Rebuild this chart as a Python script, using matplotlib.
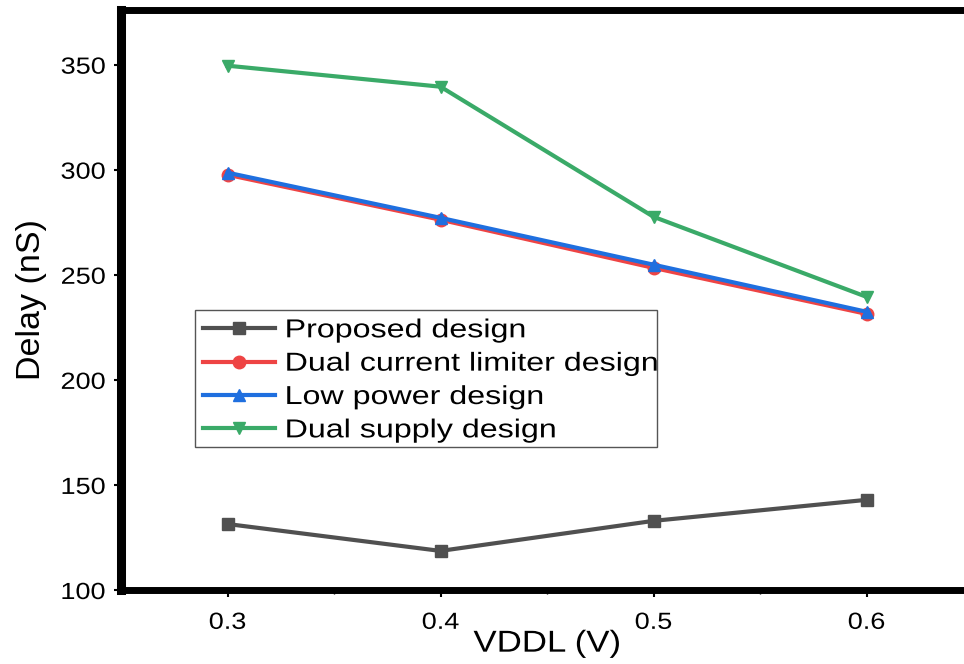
import matplotlib
matplotlib.use("Agg")
import matplotlib.pyplot as plt
from matplotlib.ticker import MultipleLocator
from matplotlib.patheffects import AbstractPathEffect
from matplotlib.transforms import Affine2D
from matplotlib.patches import Rectangle

plt.rcParams['font.family'] = ['Liberation Sans', 'DejaVu Sans']

vddl = [0.3, 0.4, 0.5, 0.6]
proposed = [131.4, 118.6, 132.9, 142.9]
dual_limiter = [297.6, 276.2, 253.3, 231.4]
low_power = [298.6, 277.1, 254.8, 232.4]
dual_supply = [349.5, 339.5, 277.6, 239.5]

labels = ["Proposed design", "Dual current limiter design", "Low power design", "Dual supply design"]
colors = ["#505050", "#ee4444", "#1f6fdf", "#3aaa68"]
markers = ["s", "o", "^", "v"]


class StretchX(AbstractPathEffect):
    """Widen glyphs along the text direction (the reference image is horizontally stretched)."""
    def __init__(self, sx, anchor="center"):
        super().__init__()
        self.sx = sx
        self.anchor = anchor

    def draw_path(self, renderer, gc, tpath, affine, rgbFace=None):
        ext = tpath.get_extents()
        if self.anchor == "left":
            cx = ext.x0
        elif self.anchor == "right":
            cx = ext.x1
        else:
            cx = 0.5 * (ext.x0 + ext.x1)
        st = Affine2D().translate(-cx, 0).scale(self.sx, 1).translate(cx, 0)
        renderer.draw_path(gc, tpath, st + affine, rgbFace)


fig = plt.figure(figsize=(9.64, 6.64), dpi=100)
ax = fig.add_axes([121/964, 74/664, 852/964, 580/664])

for y, lab, c, m in zip([proposed, dual_limiter, low_power, dual_supply], labels, colors, markers):
    ax.plot(vddl, y, color=c, marker=m, markersize=9, linewidth=3, label=lab)

ax.set_xlim(0.25, 0.65)
ax.set_ylim(100, 376)
ax.set_xticks(vddl)
ax.set_xticklabels(["0.3", "0.4", "0.5", "0.6"])
ax.xaxis.set_minor_locator(MultipleLocator(0.05))
ax.set_yticks([100, 150, 200, 250, 300, 350])

ax.spines['left'].set_linewidth(6.5)
for s in ['bottom', 'top', 'right']:
    ax.spines[s].set_linewidth(5)

ax.tick_params(axis='both', which='major', direction='out', length=5, width=1.5, labelsize=16.8)
ax.tick_params(axis='x', which='major', pad=10)
ax.tick_params(axis='y', which='major', pad=6)
ax.tick_params(axis='x', which='minor', direction='out', length=3, width=1)

for t in ax.get_xticklabels():
    t.set_path_effects([StretchX(1.16, "center")])
for t in ax.get_yticklabels():
    t.set_path_effects([StretchX(1.16, "right")])

xl = ax.set_xlabel("VDDL (V)", fontsize=21.8, labelpad=-3)
yl = ax.set_ylabel("Delay (nS)", fontsize=24.5, labelpad=14)
xl.set_path_effects([StretchX(1.15, "center")])

# legend frame (drawn separately because glyphs are widened after layout)
fx0, fx1, fy0, fy1 = 195, 657, 310, 447
ax.add_patch(Rectangle(((fx0 - 121) / 852, (590 - fy1) / 580), (fx1 - fx0) / 852, (fy1 - fy0) / 580,
                       transform=ax.transAxes, facecolor='white', edgecolor='#555555',
                       linewidth=1, zorder=4.9, clip_on=False))

leg = ax.legend(loc='upper left', bbox_to_anchor=((fx0 - 121) / 852, (590 - fy0) / 580), fontsize=18.7,
                handlelength=2.77, handletextpad=0.38, labelspacing=0.36,
                borderpad=0.32, borderaxespad=0, frameon=False)
for t in leg.get_texts():
    t.set_path_effects([StretchX(1.24, "left")])

fig.savefig("out.png", dpi=100)
